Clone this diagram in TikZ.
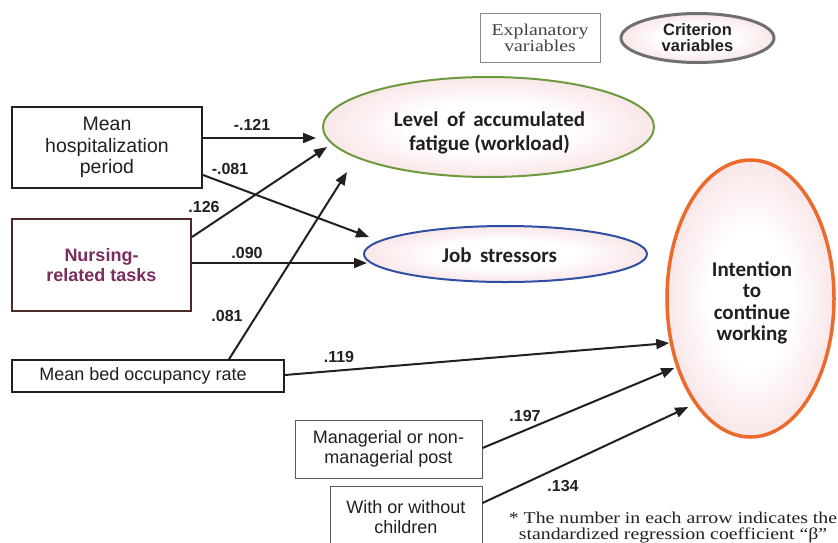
\documentclass[tikz,border=0pt]{standalone}
\usepackage{fontspec}
\setmainfont{Liberation Sans}
\newfontfamily\calfont{Carlito}
\newfontfamily\serfont[FakeStretch=1.2]{Liberation Serif}
\usetikzlibrary{shapes.geometric,arrows.meta}
\definecolor{ink}{HTML}{231F20}
\definecolor{pinkE}{HTML}{EFB7BD}
\definecolor{nursbrown}{HTML}{4E2B27}
\definecolor{nurspurple}{HTML}{7B2D5F}
\definecolor{fatgreen}{HTML}{6E9A3F}
\definecolor{jobblue}{HTML}{2F4FA2}
\definecolor{intorange}{HTML}{EC6A2C}
\definecolor{critgray}{HTML}{707070}
\definecolor{boxgray}{HTML}{5A5A5A}
\definecolor{lightgray}{HTML}{8A8A8A}
\pgfdeclareradialshading{pinkglow}{\pgfpoint{0bp}{0bp}}{color(0bp)=(white); color(12bp)=(white); color(50bp)=(pinkE)}
\begin{document}
\begin{tikzpicture}[x=1pt,y=-1pt,
  box/.style={draw=ink, rectangle, inner sep=0pt, align=center, text=ink},
  ell/.style={ellipse, inner sep=0pt, shading=pinkglow},
  arr/.style={draw=ink, line width=2pt, -{Triangle[length=13pt,width=10pt]}},
  coef/.style={font=\fontsize{16}{18}\selectfont\bfseries, text=ink, inner sep=0pt},
  sans18/.style={font=\fontsize{18}{20}\selectfont},
  calib/.style={font=\calfont\bfseries\fontsize{21}{24}\selectfont, align=center, text=ink, inner sep=0pt},
]
\useasboundingbox (0,0) rectangle (838,542);

% legend
\node[box, draw=lightgray, line width=1pt, minimum width=120pt, minimum height=49pt, text=ink!85,
      font=\serfont\fontsize{16.5}{16}\selectfont] (expl) at (540,37.5) {Explanatory\\variables};
\node[ell, draw=critgray, line width=3pt, minimum width=153pt, minimum height=49pt, align=center, text=ink,
      font=\fontsize{16.5}{16}\selectfont\bfseries] (crit) at (697.5,38) {Criterion\\variables};

% explanatory boxes
\node[box, line width=2pt, minimum width=190pt, minimum height=81pt,
      font=\fontsize{19.5}{21.5}\selectfont] (hosp) at (107,147.5) {Mean\\hospitalization\\period};
\node[box, draw=nursbrown, line width=2pt, minimum width=179pt, minimum height=92pt, text=nurspurple,
      font=\fontsize{18}{20}\selectfont\bfseries] (nurs) at (101.5,265) {Nursing-\\related tasks};
\node[box, line width=1.5pt, minimum width=272pt, minimum height=32pt, sans18] (bed) at (148,376)
  {\mbox{Mean bed occupancy rate\hspace{10pt}}};
\node[box, draw=boxgray, line width=1pt, minimum width=187pt, minimum height=58pt, sans18] (mgr) at (388.5,449) {Managerial or non-\\managerial post};
\node[box, draw=boxgray, line width=1pt, minimum width=152pt, minimum height=62pt, sans18] (child) at (406,517) {With or without\\children};

% criterion ellipses
\node[ell, draw=fatgreen, line width=2pt, minimum width=331pt, minimum height=100pt] (fat) at (488.5,127) {};
\node[calib] (fatT) at (489.5,133) {Level\hspace{0.4em}of\hspace{0.4em}accumulated\\fatigue (workload)};
\node[ell, draw=jobblue, line width=2pt, minimum width=283pt, minimum height=56pt] (job) at (505.5,254) {};
\node[calib] (jobT) at (499.5,255) {Job\hspace{0.4em}stressors};
\node[ell, draw=intorange, line width=3.5pt, minimum width=167pt, minimum height=277pt] (int) at (750.5,298.5) {};
\node[calib, font=\calfont\bfseries\fontsize{21}{21.3}\selectfont] (intT) at (752,303) {Intention\\to\\continue\\working};

% arrows
\draw[arr] ([yshift=9.5pt]hosp.east) -- ([xshift=-6pt,yshift=-11pt]fat.west);
\draw[arr] ([yshift=-27.5pt]hosp.east) -- ([xshift=6pt,yshift=17pt]job.west);
\draw[arr] ([yshift=28pt]nurs.east) -- ([xshift=5pt,yshift=-20pt]fat.west);
\draw[arr] ([yshift=2pt]nurs.east) -- ([xshift=4pt,yshift=-9pt]job.west);
\draw[arr] ([xshift=81pt]bed.north) -- ([xshift=25pt,yshift=-45pt]fat.west);
\draw[arr] ([yshift=1pt]bed.east) -- ([xshift=4pt,yshift=-44.5pt]int.west);
\draw[arr] ([yshift=1pt]mgr.east) -- ([xshift=9pt,yshift=-69.5pt]int.west);
\draw[arr] ([yshift=14pt]child.east) -- ([xshift=23pt,yshift=-108.5pt]int.west);

% coefficients
\node[coef] (c1) at (252,125) {-.121};
\node[coef] (c2) at (230,169) {-.081};
\node[coef] (c3) at (204,207) {.126};
\node[coef] (c4) at (247,253) {.090};
\node[coef] (c5) at (227,316) {.081};
\node[coef] (c6) at (339,357) {.119};
\node[coef] (c7) at (525,416) {.197};
\node[coef] (c8) at (563,486) {.134};

% note
\node[align=center, text=ink, inner sep=0pt, font=\serfont\fontsize{16.5}{16}\selectfont] (note) at (673,528)
  {* The number in each arrow indicates the\\standardized regression coefficient “β”};
\end{tikzpicture}
\end{document}
